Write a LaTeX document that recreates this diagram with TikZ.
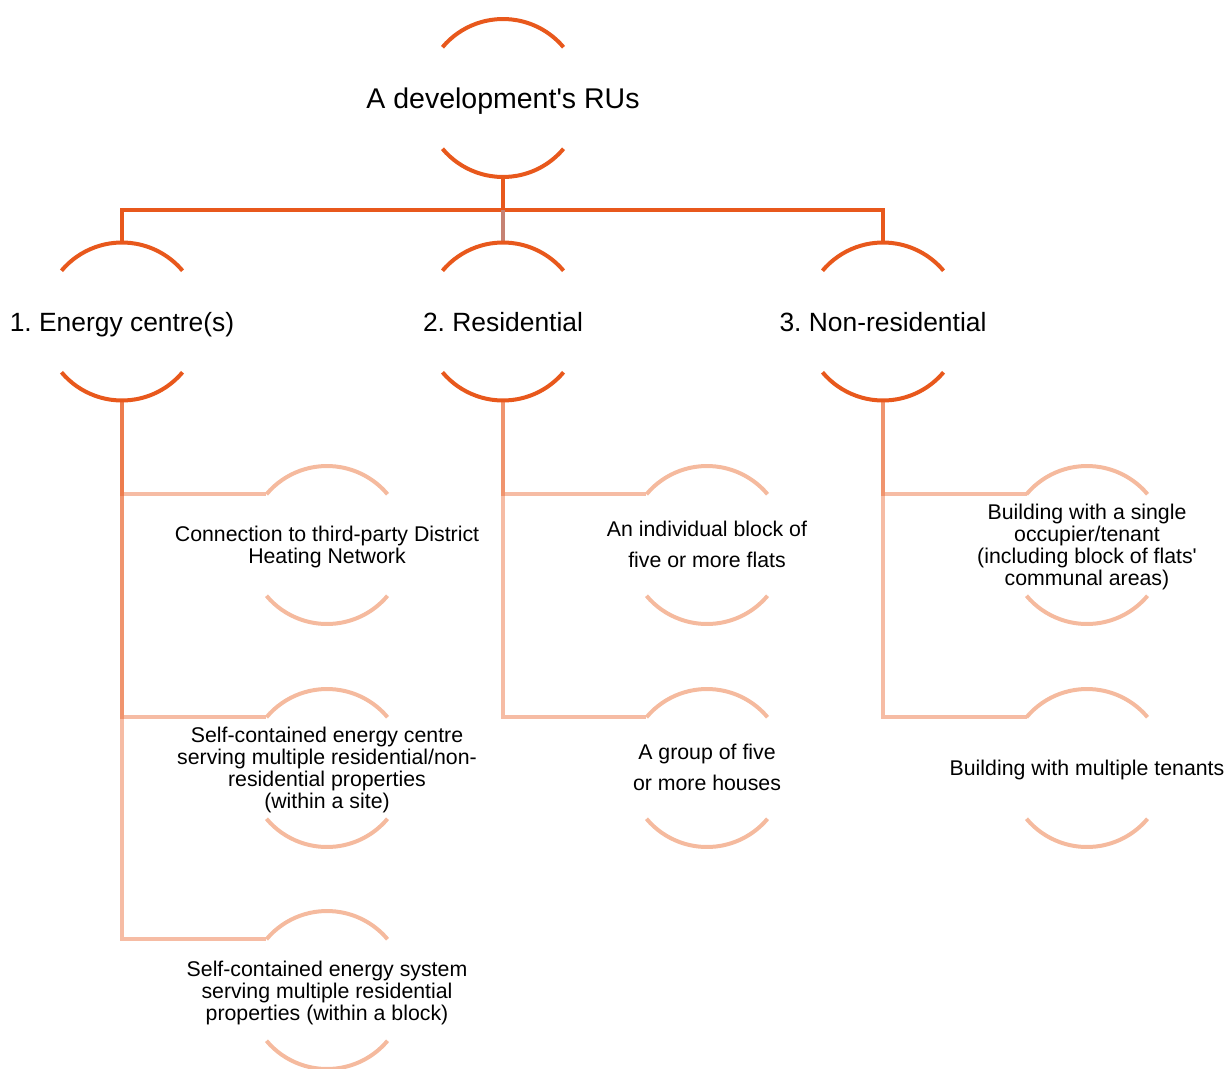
\documentclass[tikz,border=0pt]{standalone}
\usepackage{fontspec}
\setmainfont{Liberation Sans}[Ligatures=TeXOff]
\frenchspacing
\definecolor{dk}{HTML}{E8581C}
\definecolor{lt}{HTML}{F5BA9E}
\definecolor{brn}{HTML}{C68273}
\begin{document}
\begin{tikzpicture}[x=1pt,y=1pt,
  ring/.style={circle, minimum size=158pt, inner sep=0pt, outer sep=0pt, draw=none},
  darkline/.style={draw=dk, line width=4pt},
  lightarc/.style={draw=lt, line width=4pt},
  conn/.style={draw=dk, draw opacity=0.4, line width=4pt},
  brownline/.style={draw=brn, line width=4pt},
  tzero/.style={font=\fontsize{28.5}{34}\selectfont, inner sep=0pt, anchor=base},
  tone/.style={font=\fontsize{26.4}{32}\selectfont, inner sep=0pt, anchor=base},
  ttwo/.style={font=\fontsize{21.3}{22}\selectfont, inner sep=0pt, align=center},
  ttwow/.style={font=\fontsize{21.3}{31}\selectfont, inner sep=0pt, align=center},
]
\useasboundingbox (0,0) rectangle (1228,-1068);

% ring shapes
\node[ring] (root) at (503,-98) {};
\node[ring] (e)  at (122,-321.5) {};
\node[ring] (r)  at (503,-321.5) {};
\node[ring] (nr) at (883,-321.5) {};
\node[ring] (ce1) at (327,-545) {};
\node[ring] (ce2) at (327,-768) {};
\node[ring] (ce3) at (327,-990) {};
\node[ring] (cr1) at (707,-545) {};
\node[ring] (cr2) at (707,-768) {};
\node[ring] (cn1) at (1087,-545) {};
\node[ring] (cn2) at (1087,-768) {};

% top connectors
\draw[darkline] (root.south) -- ++(0,-33) coordinate (busC);
\draw[darkline] (e.north) -- (e.north |- busC) -- (nr.north |- busC) -- (nr.north);
\draw[brownline] (r.north) -- (r.north |- busC);

% child connectors (semi-transparent, overlapping)
\draw[conn] (e.south) |- (ce1.140);
\draw[conn] (e.south) |- (ce2.140);
\draw[conn] (e.south) |- (ce3.140);
\draw[conn] (r.south) |- (cr1.140);
\draw[conn] (r.south) |- (cr2.140);
\draw[conn] (nr.south) |- (cn1.140);
\draw[conn] (nr.south) |- (cn2.140);

% arcs
\foreach \n in {root,e,r,nr} {
  \draw[darkline] (\n.140) arc[start angle=140, end angle=40, radius=79pt];
  \draw[darkline] (\n.220) arc[start angle=220, end angle=320, radius=79pt];
}
\foreach \n in {ce1,ce2,ce3,cr1,cr2,cn1,cn2} {
  \draw[lightarc] (\n.140) arc[start angle=140, end angle=40, radius=79pt];
  \draw[lightarc] (\n.220) arc[start angle=220, end angle=320, radius=79pt];
}

% texts
\node[tzero] (troot) at (503,-108) {A development's RUs};
\node[tone] (te) at (122,-331) {1. Energy centre(s)};
\node[tone] (tr) at (503,-331) {2. Residential};
\node[tone] (tnr) at (883,-331) {3. Non-residential};
\node[ttwo] (tce1) at (327,-547) {Connection to third-party District\\Heating Network};
\node[ttwo] (tce2) at (327,-770) {Self-contained energy centre\\serving multiple residential/non-\\residential properties\\(within a site)};
\node[ttwo] (tce3) at (327,-993) {Self-contained energy system\\serving multiple residential\\properties (within a block)};
\node[ttwow] (tcr1) at (707,-544) {An individual block of\\five or more flats};
\node[ttwow] (tcr2) at (707,-767) {A group of five\\or more houses};
\node[ttwo] (tcn1) at (1087,-547) {Building with a single\\occupier/tenant\\(including block of flats'\\communal areas)};
\node[ttwo] (tcn2) at (1087,-770) {Building with multiple tenants};
\end{tikzpicture}
\end{document}
